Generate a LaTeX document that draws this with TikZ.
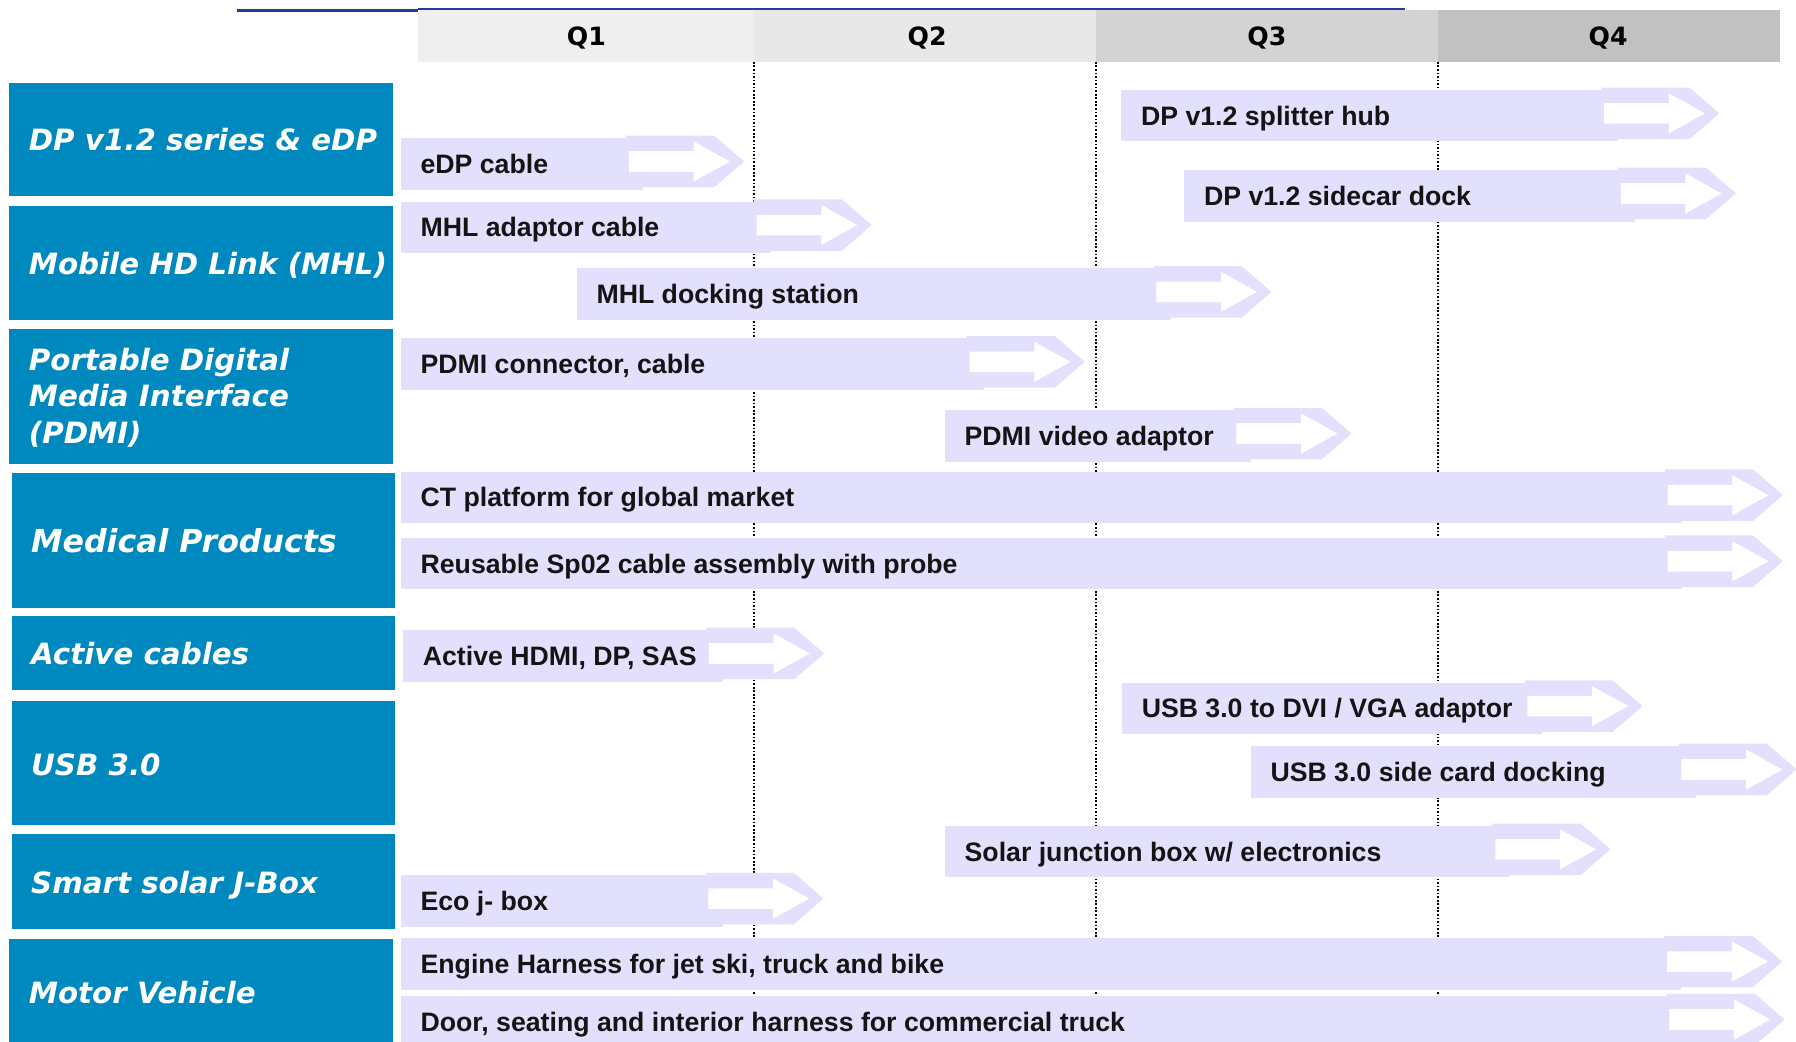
\documentclass[tikz,border=0pt]{standalone}
\usepackage{fontspec}
\setmainfont{Liberation Sans}
\newfontfamily\labfont{DejaVu Sans}[BoldFont={DejaVu Sans Bold},ItalicFont={DejaVu Sans Oblique},BoldItalicFont={DejaVu Sans Bold Oblique}]
\definecolor{lav}{RGB}{227,224,253}
\definecolor{catblue}{RGB}{0,137,190}
\definecolor{topblue}{RGB}{30,62,152}
\definecolor{qone}{RGB}{239,239,239}
\definecolor{qtwo}{RGB}{232,232,232}
\definecolor{qthree}{RGB}{211,211,211}
\definecolor{qfour}{RGB}{193,193,193}
\definecolor{ink}{RGB}{20,20,20}
\tikzset{
  catbox/.style={fill=catblue, draw=none, anchor=north west, inner sep=0pt, minimum width=335},
  cattext/.style={anchor=base west, inner sep=0pt, text=white, font=\labfont\bfseries\itshape\fontsize{25.6}{30}\selectfont},
  bartext/.style={anchor=base west, inner sep=0pt, text=ink, font=\bfseries\fontsize{23.3}{27}\selectfont},
  qband/.style={anchor=north west, inner sep=0pt, minimum height=45.1, draw=none},
  qtext/.style={anchor=base, inner sep=0pt, text=black, font=\labfont\bfseries\fontsize{22}{26}\selectfont},
  gridline/.style={line width=1.6pt, dash pattern=on 1.5pt off 1.6pt, black},
}
\newcommand\gbar[5]{%
  \fill[lav] (#2,#3) rectangle ({#4-88},{#3+45});
  \fill[lav] ({#4-103},{#3-2}) -- ({#4-26},{#3-2}) -- (#4,{#3+20.5}) -- ({#4-26},{#3+43}) -- ({#4-103},{#3+43}) -- cycle;
  \fill[white] ({#4-100.5},{#3+11.5}) -- ({#4-44},{#3+11.5}) -- ({#4-44},{#3+3}) -- ({#4-12.5},{#3+20.5}) -- ({#4-44},{#3+38}) -- ({#4-44},{#3+29.5}) -- ({#4-100.5},{#3+29.5}) -- cycle;
  \node[bartext] (#1) at ({#2+17},{#3+30.8}) {#5};
}
\begin{document}
\begin{tikzpicture}[x=1pt,y=-1pt]
\clip (0,0) rectangle (1568,909);
\fill[white] (0,0) rectangle (1568,909);
% header bands
\node[qband, fill=qone, minimum width=293] (b1) at (365,8.7) {};
\node[qband, fill=qtwo, minimum width=299.5] (b2) at (658,8.7) {};
\node[qband, fill=qthree, minimum width=298] (b3) at (957,8.7) {};
\node[qband, fill=qfour, minimum width=298] (b4) at (1255.5,8.7) {};
\node[qtext] (q1) at (512,39.5) {Q1};
\node[qtext] (q2) at (809.5,39.5) {Q2};
\node[qtext] (q3) at (1106,39.5) {Q3};
\node[qtext] (q4) at (1404,39.5) {Q4};
% top rule
\draw[topblue, line width=2.8pt] (207,9.2) -- (365,9.2);
\draw[topblue, line width=1.9pt] (365,8) -- (1227,8);
% quarter separators
\draw[gridline] (658,54) -- (658,909);
\draw[gridline] (957,54) -- (957,909);
\draw[gridline] (1255.5,54) -- (1255.5,909);
% category boxes
\node[catbox, minimum height=99] (c1) at (8,72) {};
\node[catbox, minimum height=99] (c2) at (8,180) {};
\node[catbox, minimum height=118] (c3) at (8,287) {};
\node[catbox, minimum height=118] (c4) at (10,413) {};
\node[catbox, minimum height=64] (c5) at (10,538) {};
\node[catbox, minimum height=108] (c6) at (10,612) {};
\node[catbox, minimum height=83] (c7) at (10,728) {};
\node[catbox, minimum height=95] (c8) at (8,820) {};
\node[cattext] (t1) at (25,131.3) {DP v1.2 series \& eDP};
\node[cattext] (t2) at (25,240) {Mobile HD Link (MHL)};
\node[cattext] (t3a) at (25,323.3) {Portable Digital};
\node[cattext] (t3b) at (25,355.3) {Media Interface};
\node[cattext] (t3c) at (25,387.3) {(PDMI)};
\node[cattext, font=\labfont\bfseries\itshape\fontsize{27.6}{32}\selectfont] (t4) at (27,482.5) {Medical Products};
\node[cattext] (t5) at (27,580.3) {Active cables};
\node[cattext] (t6) at (27,677) {USB 3.0};
\node[cattext] (t7) at (27,780.3) {Smart solar J-Box};
\node[cattext] (t8) at (25,876.3) {Motor Vehicle};
% bars
\gbar{p1}{979}{78.5}{1501}{DP v1.2 splitter hub}
\gbar{p2}{1034}{148.4}{1515.5}{DP v1.2 sidecar dock}
\gbar{p3}{350}{120.5}{649.6}{eDP cable}
\gbar{p4}{350}{176}{761}{MHL adaptor cable}
\gbar{p5}{503.6}{234.3}{1110}{MHL docking station}
\gbar{p6}{350}{295.4}{947}{PDMI connector, cable}
\gbar{p7}{825}{358}{1180}{PDMI video adaptor}
\gbar{p8}{350}{411.8}{1556.5}{CT platform for global market}
\gbar{p9}{350}{469.5}{1556.5}{Reusable Sp02 cable assembly with probe}
\gbar{p10}{352}{550}{719.4}{Active HDMI, DP, SAS}
\gbar{p11}{979.6}{596}{1434}{USB 3.0 to DVI / VGA adaptor}
\gbar{p12}{1092}{651.3}{1568.5}{USB 3.0 side card docking}
\gbar{p13}{825}{721}{1406}{Solar junction box w/ electronics}
\gbar{p14}{350}{764}{719}{Eco j- box}
\gbar{p15}{350}{819}{1556}{Engine Harness for jet ski, truck and bike}
\gbar{p16}{350}{869.6}{1558}{Door, seating and interior harness for commercial truck}
\end{tikzpicture}
\end{document}
